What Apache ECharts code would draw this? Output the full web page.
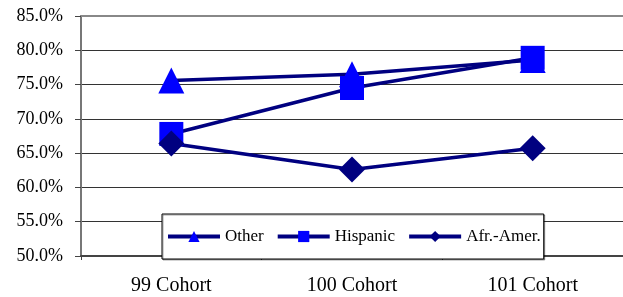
<!DOCTYPE html>
<html>
<head>
<meta charset="utf-8">
<script src="https://cdn.jsdelivr.net/npm/echarts@6/dist/echarts.min.js"></script>
<style>
html, body { margin: 0; padding: 0; background: #fff; }
#chart { width: 623px; height: 297px; }
</style>
</head>
<body>
<div id="chart"></div>
<script>
// cohorts on the x axis
const cohorts = ['99 Cohort', '100 Cohort', '101 Cohort']
// rates in percent
const other = [75.6, 76.5, 78.6]
const hispanic = [67.8, 74.5, 78.9]
const afrAmer = [66.4, 62.6, 65.7]

const serif = '"Liberation Serif", "Times New Roman", serif'
const lineColor = '#000080'

function makeSeries(name, data, symbol, symbolColor, size) {
    return {
        name: name,
        type: 'line',
        data: data,
        symbol: symbol,
        symbolSize: size,
        lineStyle: { color: lineColor, width: 3.5 },
        itemStyle: { color: symbolColor, borderWidth: 0 },
        emphasis: { disabled: true },
        animation: false
    }
}

const chart = echarts.init(document.getElementById('chart'))
chart.setOption({
    animation: false,
    grid: { left: 81, right: 0, top: 16, bottom: 41 },
    legend: {
        left: 162,
        top: 214,
        padding: [14, 3, 14, 4],
        itemGap: 12,
        itemWidth: 52,
        itemHeight: 14,
        backgroundColor: '#fff',
        borderColor: '#000',
        borderWidth: 1,
        shadowColor: 'rgba(0,0,0,0.35)',
        shadowOffsetX: 1,
        shadowOffsetY: 1,
        lineStyle: { width: 4 },
        textStyle: { fontFamily: serif, fontSize: 17, color: '#000' },
        data: ['Other', 'Hispanic', 'Afr.-Amer.']
    },
    xAxis: [{
        type: 'category',
        data: cohorts,
        boundaryGap: true,
        axisLine: { lineStyle: { color: '#444', width: 2 } },
        axisTick: { show: true, length: 4, lineStyle: { color: '#444' } },
        axisLabel: { fontFamily: serif, fontSize: 20, color: '#000', margin: 20 }
    }, {
        type: 'category',
        data: cohorts,
        position: 'top',
        axisLine: { lineStyle: { color: '#888', width: 2 } },
        axisTick: { show: false },
        axisLabel: { show: false }
    }],
    yAxis: {
        type: 'value',
        min: 50,
        max: 85,
        interval: 5,
        axisLine: { show: true, lineStyle: { color: '#777', width: 2 } },
        axisTick: { show: true, length: 6, lineStyle: { color: '#444' } },
        splitLine: { lineStyle: { color: '#333', width: 1 } },
        axisLabel: {
            fontFamily: serif, fontSize: 18, color: '#000', margin: 18,
            formatter: v => v.toFixed(1) + '%'
        }
    },
    series: [
        makeSeries('Other', other, 'triangle', '#0000ff', 26),
        makeSeries('Hispanic', hispanic, 'rect', '#0000ff', 24),
        makeSeries('Afr.-Amer.', afrAmer, 'diamond', lineColor, 26)
    ]
})
</script>
</body>
</html>
